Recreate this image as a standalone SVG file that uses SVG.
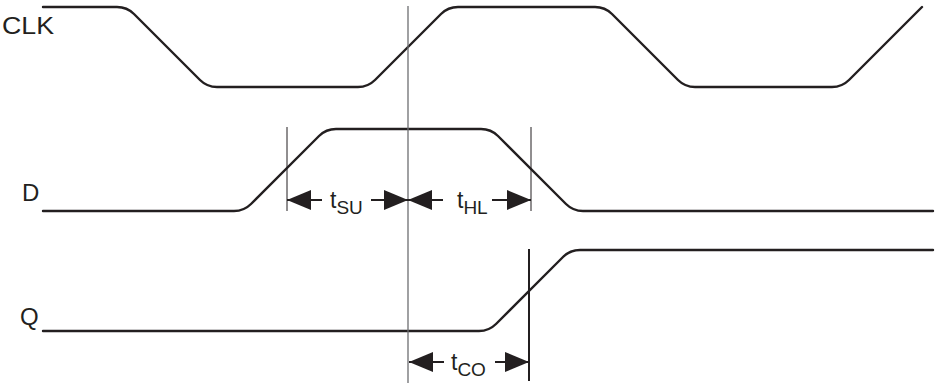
<svg xmlns="http://www.w3.org/2000/svg" width="938" height="383" viewBox="0 0 938 383">
<defs>
<style>
.wave{fill:none;stroke:#231f20;stroke-width:2.4;stroke-linejoin:round;stroke-linecap:round}
.ref{stroke:#6d6e71;stroke-width:1.3}
.mark{stroke:#231f20;stroke-width:1}
.markq{stroke:#231f20;stroke-width:2}
.dim{stroke:#231f20;stroke-width:2.2}
.lbl{font-family:"Liberation Sans",Arial,sans-serif;fill:#231f20;font-size:24px}
.t{font-family:"Liberation Sans",Arial,sans-serif;fill:#231f20;font-size:23px}
.sub{font-size:19px}
</style>
<marker id="ah" markerUnits="userSpaceOnUse" markerWidth="26" markerHeight="22" refX="24" refY="10" orient="auto">
<path d="M0,0 L24,10 L0,20 Z" fill="#231f20"/>
</marker>
</defs>
<g id="clk">
<path class="wave" d="M43,7 L117,7 Q127,7 134,14 L200,80 Q207,87 217,87 L358,87 Q368,87 375,80 L441,14 Q448,7 458,7 L595,7 Q605,7 612,14 L678,80 Q685,87 695,87 L832,87 Q842,87 849,80 L922,7"/>
<text class="lbl" x="2" y="34" textLength="52" lengthAdjust="spacingAndGlyphs">CLK</text>
</g>
<g id="d">
<path class="wave" d="M43,211 L234,211 Q244,211 251,204 L319,136 Q326,129 336,129 L481,129 Q491,129 498,136 L566,204 Q573,211 583,211 L933,211"/>
<text class="lbl" x="22" y="201">D</text>
</g>
<g id="q">
<path class="wave" d="M43,331 L479,331 Q489,331 496,324 L563,257 Q570,250 580,250 L933,250"/>
<text class="lbl" x="20" y="325">Q</text>
</g>
<g id="refs">
<line class="ref" x1="408" y1="6" x2="408" y2="383"/>
<line class="mark" x1="287" y1="127" x2="287" y2="211"/>
<line class="mark" x1="531" y1="127" x2="531" y2="211"/>
<line class="markq" x1="529" y1="249" x2="529" y2="381"/>
</g>
<g id="connectors">
<line class="dim" x1="322" y1="200" x2="287" y2="200" marker-end="url(#ah)"/>
<line class="dim" x1="371" y1="200" x2="408" y2="200" marker-end="url(#ah)"/>
<line class="dim" x1="443" y1="200" x2="408" y2="200" marker-end="url(#ah)"/>
<line class="dim" x1="492" y1="200" x2="531" y2="200" marker-end="url(#ah)"/>
<line class="dim" x1="444" y1="362" x2="409" y2="362" marker-end="url(#ah)"/>
<line class="dim" x1="495" y1="362" x2="529" y2="362" marker-end="url(#ah)"/>
</g>
<g id="labels">
<text class="t" x="330" y="208">t<tspan class="sub" dy="6">SU</tspan></text>
<text class="t" x="457" y="208">t<tspan class="sub" dy="6">HL</tspan></text>
<text class="t" x="451" y="370">t<tspan class="sub" dy="6">CO</tspan></text>
</g>
</svg>
